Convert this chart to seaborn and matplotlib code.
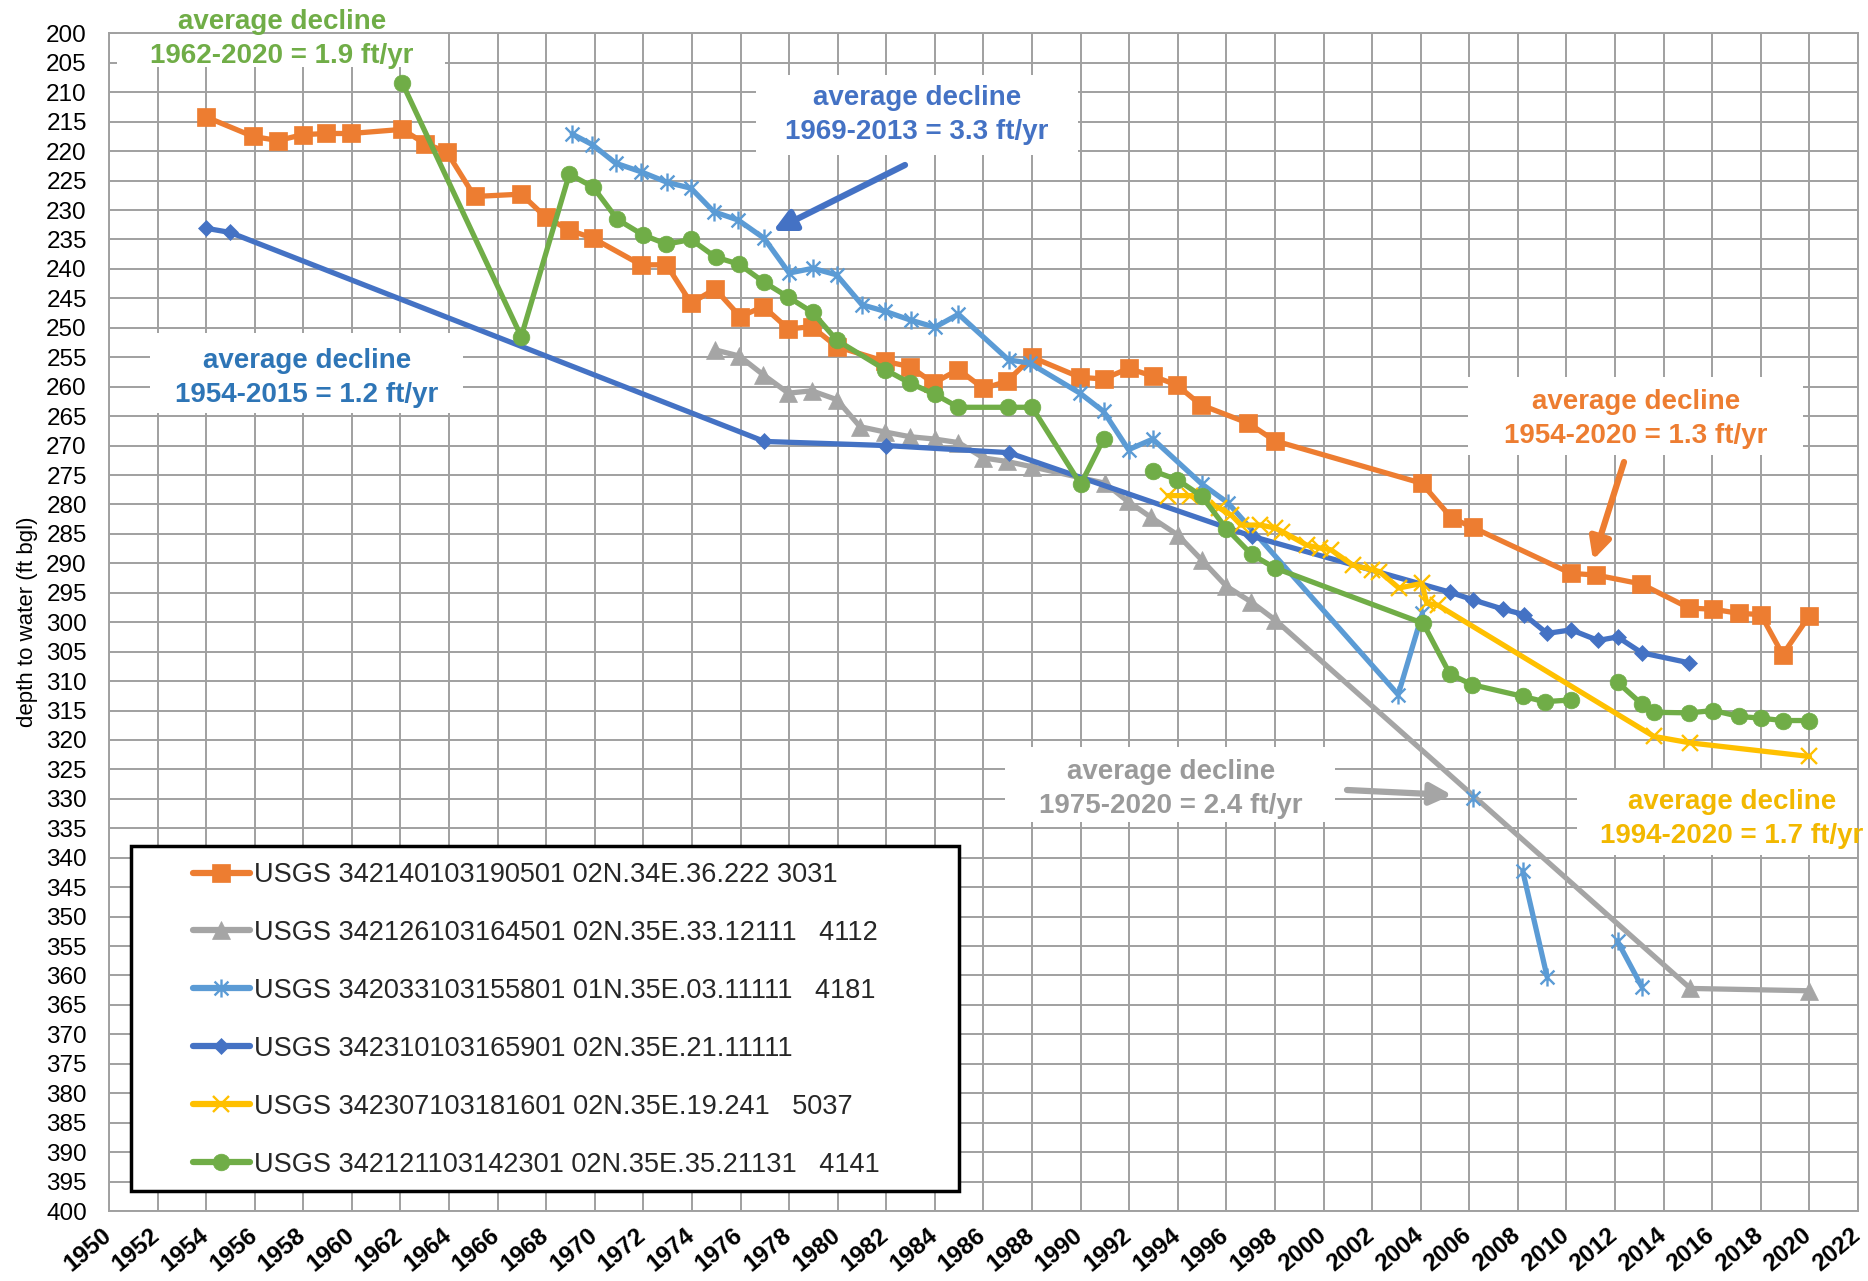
import numpy as np
import pandas as pd
import matplotlib
matplotlib.use("Agg")
import matplotlib.pyplot as plt
import matplotlib.transforms as mtransforms
import seaborn as sns
from matplotlib.path import Path
from matplotlib.lines import Line2D
from matplotlib.patches import Rectangle

# ---------------- data ----------------
yrs_or = [1954.0, 1955.93, 1956.96, 1957.97, 1958.94, 1959.95, 1962.07, 1963.0, 1963.9, 1965.05,
          1966.97, 1967.98, 1968.95, 1969.93, 1971.9, 1972.95, 1973.96, 1974.95, 1975.98, 1976.94,
          1977.97, 1978.93, 1979.96, 1981.95, 1982.98, 1983.94, 1984.97, 1986.0, 1986.96, 1988.0,
          1989.97, 1990.94, 1991.97, 1992.97, 1993.95, 1994.95, 1996.9, 1998.0, 2004.04, 2005.27,
          2006.14, 2010.18, 2011.23, 2013.07, 2015.05, 2016.05, 2017.1, 2018.0, 2018.9, 2020.0]
dep_or = [214.2, 217.5, 218.2, 217.2, 217.0, 217.0, 216.3, 218.7, 220.1, 227.7,
          227.3, 231.2, 233.4, 234.8, 239.3, 239.3, 245.8, 243.4, 248.1, 246.4,
          250.2, 249.8, 253.2, 255.7, 256.6, 259.4, 257.1, 260.3, 259.1, 255.0,
          258.4, 258.7, 256.9, 258.2, 259.7, 263.1, 266.2, 269.2, 276.4, 282.3,
          283.9, 291.7, 292.0, 293.5, 297.6, 297.8, 298.5, 298.7, 305.5, 298.9]

yrs_gr = [1974.95, 1975.95, 1976.94, 1977.97, 1978.93, 1979.96, 1980.92, 1981.95, 1982.98, 1984.0,
          1984.97, 1986.0, 1986.96, 1988.0, 1991.0, 1991.95, 1992.9, 1994.0, 1995.0, 1996.0,
          1997.0, 1998.0, 2015.1, 2020.0]
dep_gr = [253.75, 254.8, 258.0, 261.1, 260.7, 262.2, 266.8, 267.7, 268.5, 268.9,
          269.5, 272.1, 272.7, 273.6, 276.4, 279.5, 282.2, 285.2, 289.5, 293.9,
          296.5, 299.6, 362.2, 362.6]

nan = np.nan
yrs_lb = [1969.07, 1969.9, 1970.86, 1971.9, 1972.98, 1973.96, 1974.9, 1975.9, 1976.97, 1978.0,
          1978.97, 1979.95, 1981.0, 1981.95, 1983.0, 1984.0, 1984.97, 1987.03, 1987.9, 1989.97,
          1990.94, 1991.97, 1992.97, 1994.98, 1996.08, 2003.07, 2004.07, nan, 2006.14, nan,
          2008.2, 2009.2, nan, 2012.1, 2013.1]
dep_lb = [217.1, 218.9, 222.05, 223.5, 225.3, 226.3, 230.3, 231.7, 234.8, 240.7,
          239.9, 241.0, 246.1, 247.2, 248.7, 249.9, 247.7, 255.45, 256.0, 261.1,
          264.2, 270.7, 268.9, 276.5, 279.8, 312.3, 298.5, nan, 329.9, nan,
          342.3, 360.2, nan, 354.2, 361.9]

yrs_bl = [1954.0, 1954.98, 1976.98, 1982.0, 1987.03, 1997.04, 2005.2, 2006.15, 2007.4, 2008.25,
          2009.2, 2010.2, 2011.3, 2012.1, 2013.1, 2015.05]
dep_bl = [233.1, 233.8, 269.3, 270.0, 271.2, 285.4, 294.9, 296.2, 297.8, 298.7,
          301.9, 301.3, 303.1, 302.5, 305.2, 306.9]

yrs_ye = [1993.6, 1994.5, 1995.7, 1996.2, 1996.6, 1997.4, 1998.0, 1998.3, 1999.3, 1999.85,
          2000.3, 2001.2, 2002.0, 2002.3, 2003.1, 2004.05, 2004.25, 2004.7, 2013.6, 2015.1, 2020.0]
dep_ye = [278.5, 278.5, 280.6, 281.8, 283.5, 283.5, 284.0, 284.6, 286.9, 287.4,
          287.7, 290.3, 291.1, 291.4, 294.2, 293.4, 296.8, 297.1, 319.4, 320.5, 322.8]

yrs_gn = [1962.07, 1966.97, 1968.95, 1969.93, 1970.93, 1971.97, 1972.95, 1973.96, 1974.97, 1975.94,
          1976.98, 1977.97, 1978.97, 1979.96, 1981.95, 1982.98, 1984.0, 1984.97, 1987.0, 1988.0,
          1990.0, 1990.94, nan, 1992.97, 1993.98, 1994.98, 1996.0, 1997.04, 1998.0, 2004.1,
          2005.2, 2006.1, 2008.2, 2009.1, 2010.2, nan, 2012.1, 2013.1, 2013.6, 2015.05,
          2016.05, 2017.1, 2018.0, 2018.9, 2020.0]
dep_gn = [208.4, 251.5, 223.9, 226.1, 231.6, 234.2, 235.8, 235.0, 238.0, 239.2,
          242.3, 244.8, 247.4, 252.1, 257.1, 259.4, 261.3, 263.5, 263.5, 263.5,
          276.6, 268.9, nan, 274.3, 275.8, 278.6, 284.1, 288.5, 290.8, 300.2,
          308.8, 310.6, 312.6, 313.5, 313.2, nan, 310.2, 313.9, 315.3, 315.4,
          315.0, 316.0, 316.3, 316.7, 316.7]

labels = ["USGS 342140103190501 02N.34E.36.222 3031",
          "USGS 342126103164501 02N.35E.33.12111   4112",
          "USGS 342033103155801 01N.35E.03.11111   4181",
          "USGS 342310103165901 02N.35E.21.11111",
          "USGS 342307103181601 02N.35E.19.241   5037",
          "USGS 342121103142301 02N.35E.35.21131   4141"]

x_ticks = list(range(1950, 2023, 2))
y_ticks = list(range(200, 401, 5))

# ---------------- style ----------------
sns.set_theme(style="white")
plt.rcParams['font.family'] = ['Liberation Sans', 'DejaVu Sans']

W, H = 1868, 1281
fig = plt.figure(figsize=(W / 100, H / 100), dpi=100)
ax = fig.add_axes([109 / W, 1 - 1211 / H, (1858 - 109) / W, (1211 - 33.4) / H])

def fx(px):
    return px / W

def fy(py):
    return 1 - py / H

star = Path([(-1, -1), (1, 1), (-1, 1), (1, -1), (0, -1.3), (0, 1.3)],
            [Path.MOVETO, Path.LINETO] * 3)

C_OR, C_GR, C_LB, C_BL, C_YE, C_GN = "#ED7D31", "#A5A5A5", "#5B9BD5", "#4472C4", "#FFC000", "#70AD47"

styles = [
    dict(color=C_OR, marker="s", ms=12.5, mfc=C_OR, mec=C_OR, mew=0.5),
    dict(color=C_GR, marker="^", ms=13, mfc=C_GR, mec=C_GR, mew=0.5),
    dict(color=C_LB, marker=star, ms=13, mfc="none", mec=C_LB, mew=1.7),
    dict(color=C_BL, marker="D", ms=8.5, mfc=C_BL, mec=C_BL, mew=0.5),
    dict(color=C_YE, marker="x", ms=12, mfc="none", mec=C_YE, mew=1.7),
    dict(color=C_GN, marker="o", ms=12, mfc=C_GN, mec=C_GN, mew=0.5),
]
series = [(yrs_or, dep_or), (yrs_gr, dep_gr), (yrs_lb, dep_lb),
          (yrs_bl, dep_bl), (yrs_ye, dep_ye), (yrs_gn, dep_gn)]

for (yy, dd), st in zip(series, styles):
    yy = np.array(yy, dtype=float)
    dd = np.array(dd, dtype=float)
    seg = np.cumsum(np.isnan(yy))
    df = pd.DataFrame({"year": yy, "depth": dd, "seg": seg}).dropna()
    sns.lineplot(data=df, x="year", y="depth", units="seg", estimator=None, sort=False,
                 ax=ax, lw=3.8, zorder=3, legend=False,
                 color=st["color"], marker=st["marker"], markersize=st["ms"],
                 markerfacecolor=st["mfc"], markeredgecolor=st["mec"], markeredgewidth=st["mew"])

# axes
ax.set_xlim(1950, 2022)
ax.set_ylim(400, 200)
ax.set_xticks(x_ticks)
ax.set_yticks(y_ticks)
ax.set_xlabel("")
ax.set_ylabel("depth to water (ft bgl)", fontsize=16, color="black", labelpad=6)
ax.grid(True, color="#A0A0A0", lw=1.4)
ax.set_axisbelow(True)
for s in ax.spines.values():
    s.set_color("#A0A0A0")
    s.set_linewidth(1.4)
ax.tick_params(axis="both", which="both", direction="out", length=7, width=1.4, color="#A0A0A0")
ax.tick_params(axis="y", pad=9)
ax.tick_params(axis="x", pad=2)
ax.set_xticklabels([str(t) for t in x_ticks], rotation=40, ha="right", va="top",
                   rotation_mode="anchor", fontsize=17.5, fontweight="bold", color="black")
ax.set_yticklabels([str(t) for t in y_ticks], fontsize=17.5, color="black")
shift = mtransforms.ScaledTranslation(-8 / 100, 0, fig.dpi_scale_trans)
for tk in ax.xaxis.get_major_ticks():
    tk.label1.set_transform(tk.label1.get_transform() + shift)

# white boxes behind annotation texts
boxes = [(117, 0, 445, 67), (756, 75, 1078, 155), (150, 333, 463, 413),
         (1468, 377, 1803, 455), (1005, 747, 1335, 822), (1577, 770, 1868, 855)]
for x0, y0, x1, y1 in boxes:
    ax.add_patch(Rectangle((fx(x0), fy(y1)), fx(x1) - fx(x0), fy(y0) - fy(y1),
                           transform=fig.transFigure, facecolor="white", edgecolor="none",
                           zorder=1, clip_on=False))

texts = [
    (282, 39, "average decline\n1962-2020 = 1.9 ft/yr", C_GN),
    (917, 115, "average decline\n1969-2013 = 3.3 ft/yr", "#4472C4"),
    (307, 378, "average decline\n1954-2015 = 1.2 ft/yr", "#2E75B6"),
    (1636, 419, "average decline\n1954-2020 = 1.3 ft/yr", C_OR),
    (1171, 789, "average decline\n1975-2020 = 2.4 ft/yr", "#9A9A9A"),
    (1732, 819, "average decline\n1994-2020 = 1.7 ft/yr", "#F2B800"),
]
for px, py, t, c in texts:
    ax.text(fx(px), fy(py), t, transform=fig.transFigure, ha="center", va="center",
            fontsize=20, fontweight="bold", color=c, linespacing=1.36, zorder=8, clip_on=False)

arrows = [((905, 165), (773, 231), C_BL), ((1624, 462), (1593, 560), C_OR),
          ((1347, 790), (1452, 795), C_GR)]
for (tx, ty), (hx, hy), c in arrows:
    ax.annotate("", xy=(fx(hx), fy(hy)), xytext=(fx(tx), fy(ty)),
                xycoords=fig.transFigure, textcoords=fig.transFigure,
                arrowprops=dict(arrowstyle="-|>", color=c, lw=4.5, mutation_scale=32,
                                shrinkA=0, shrinkB=0),
                annotation_clip=False, zorder=9)

# legend frame + legend
ax.add_patch(Rectangle((fx(131), fy(1191)), fx(959) - fx(131), fy(846) - fy(1191),
                       transform=fig.transFigure, facecolor="white", edgecolor="black",
                       lw=2.5, zorder=6, clip_on=False))
handles = [Line2D([], [], color=st["color"], lw=4.5, marker=st["marker"], markersize=st["ms"],
                  markerfacecolor=st["mfc"], markeredgecolor=st["mec"],
                  markeredgewidth=st["mew"]) for st in styles]
leg = ax.legend(handles, labels, loc="upper left", bbox_to_anchor=(fx(193), fy(862)),
                bbox_transform=fig.transFigure, frameon=False, fontsize=19.5,
                handlelength=2.1, handletextpad=0.15, labelspacing=1.18, borderpad=0,
                borderaxespad=0)
leg.set_zorder(7)

fig.savefig("out.png", dpi=100)
